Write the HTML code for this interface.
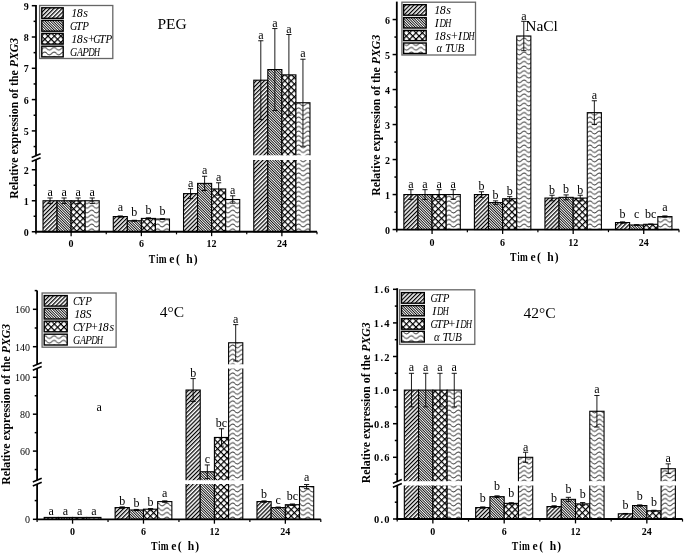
<!DOCTYPE html><html><head><meta charset="utf-8"><style>html,body{margin:0;padding:0;background:#fff;}svg{display:block;will-change:transform;}</style></head><body>
<svg width="685" height="554" viewBox="0 0 685 554">
<rect width="685" height="554" fill="#fff"/>
<defs>
<pattern id="p1" width="2.899" height="20" patternUnits="userSpaceOnUse" patternTransform="rotate(45)"><rect width="2.899" height="20" fill="#fff"/><rect x="0" y="0" width="1.25" height="20" fill="#000"/></pattern>
<pattern id="p2" width="1.838" height="20" patternUnits="userSpaceOnUse" patternTransform="rotate(-45)"><rect width="1.838" height="20" fill="#fff"/><rect x="0" y="0" width="0.85" height="20" fill="#000"/></pattern>
<pattern id="p3" width="4.525" height="4.525" patternUnits="userSpaceOnUse" patternTransform="rotate(45)"><rect width="4.525" height="4.525" fill="#fff"/><rect x="0" y="0" width="1.2" height="4.525" fill="#000"/><rect x="0" y="0" width="4.525" height="1.2" fill="#000"/></pattern>
<pattern id="p4" width="9.4" height="4.65" patternUnits="userSpaceOnUse"><rect width="9.4" height="4.65" fill="#fff"/><path d="M-0.1 2.3 C1.57 4.15 3.13 4.15 4.7 2.3 S7.83 0.45 9.5 2.3" fill="none" stroke="#222" stroke-width="0.95"/></pattern>
</defs>
<rect x="43.02" y="200.75" width="14.05" height="31.00" fill="url(#p1)" stroke="#000" stroke-width="1.1"/>
<rect x="57.08" y="200.75" width="14.05" height="31.00" fill="url(#p2)" stroke="#000" stroke-width="1.1"/>
<rect x="71.12" y="200.75" width="14.05" height="31.00" fill="url(#p3)" stroke="#000" stroke-width="1.1"/>
<rect x="85.18" y="200.75" width="14.05" height="31.00" fill="url(#p4)" stroke="#000" stroke-width="1.1"/>
<rect x="113.28" y="216.56" width="14.05" height="15.19" fill="url(#p1)" stroke="#000" stroke-width="1.1"/>
<rect x="127.33" y="220.75" width="14.05" height="11.00" fill="url(#p2)" stroke="#000" stroke-width="1.1"/>
<rect x="141.38" y="218.42" width="14.05" height="13.33" fill="url(#p3)" stroke="#000" stroke-width="1.1"/>
<rect x="155.43" y="219.04" width="14.05" height="12.71" fill="url(#p4)" stroke="#000" stroke-width="1.1"/>
<rect x="183.53" y="193.62" width="14.05" height="38.13" fill="url(#p1)" stroke="#000" stroke-width="1.1"/>
<rect x="197.58" y="183.39" width="14.05" height="48.36" fill="url(#p2)" stroke="#000" stroke-width="1.1"/>
<rect x="211.62" y="188.97" width="14.05" height="42.78" fill="url(#p3)" stroke="#000" stroke-width="1.1"/>
<rect x="225.68" y="199.51" width="14.05" height="32.24" fill="url(#p4)" stroke="#000" stroke-width="1.1"/>
<rect x="253.78" y="80.19" width="14.05" height="151.56" fill="url(#p1)" stroke="#000" stroke-width="1.1"/>
<rect x="267.82" y="69.55" width="14.05" height="162.20" fill="url(#p2)" stroke="#000" stroke-width="1.1"/>
<rect x="281.88" y="74.87" width="14.05" height="156.88" fill="url(#p3)" stroke="#000" stroke-width="1.1"/>
<rect x="295.93" y="102.73" width="14.05" height="129.02" fill="url(#p4)" stroke="#000" stroke-width="1.1"/>
<rect x="30.00" y="155.30" width="289.00" height="4.70" fill="#fff"/>
<path d="M50.05 197.96 V203.54 M47.45 197.96 H52.65 M47.45 203.54 H52.65" stroke="#000" stroke-width="0.9" fill="none"/>
<text x="50.05" y="195.96" font-family='"Liberation Serif", serif' font-size="12" font-weight="normal" font-style="normal" text-anchor="middle" >a</text>
<path d="M64.10 197.96 V203.54 M61.50 197.96 H66.70 M61.50 203.54 H66.70" stroke="#000" stroke-width="0.9" fill="none"/>
<text x="64.1" y="195.96" font-family='"Liberation Serif", serif' font-size="12" font-weight="normal" font-style="normal" text-anchor="middle" >a</text>
<path d="M78.15 197.96 V203.54 M75.55 197.96 H80.75 M75.55 203.54 H80.75" stroke="#000" stroke-width="0.9" fill="none"/>
<text x="78.15" y="195.96" font-family='"Liberation Serif", serif' font-size="12" font-weight="normal" font-style="normal" text-anchor="middle" >a</text>
<path d="M92.20 197.96 V203.54 M89.60 197.96 H94.80 M89.60 203.54 H94.80" stroke="#000" stroke-width="0.9" fill="none"/>
<text x="92.2" y="195.96" font-family='"Liberation Serif", serif' font-size="12" font-weight="normal" font-style="normal" text-anchor="middle" >a</text>
<path d="M120.30 215.94 V217.18 M117.70 215.94 H122.90 M117.70 217.18 H122.90" stroke="#000" stroke-width="0.9" fill="none"/>
<text x="120.3" y="211" font-family='"Liberation Serif", serif' font-size="12" font-weight="normal" font-style="normal" text-anchor="middle" >a</text>
<path d="M134.35 220.28 V221.21 M131.75 220.28 H136.95 M131.75 221.21 H136.95" stroke="#000" stroke-width="0.9" fill="none"/>
<text x="134.35" y="215.9" font-family='"Liberation Serif", serif' font-size="12" font-weight="normal" font-style="normal" text-anchor="middle" >b</text>
<path d="M148.40 217.80 V219.04 M145.80 217.80 H151.00 M145.80 219.04 H151.00" stroke="#000" stroke-width="0.9" fill="none"/>
<text x="148.4" y="214" font-family='"Liberation Serif", serif' font-size="12" font-weight="normal" font-style="normal" text-anchor="middle" >b</text>
<path d="M162.45 218.57 V219.50 M159.85 218.57 H165.05 M159.85 219.50 H165.05" stroke="#000" stroke-width="0.9" fill="none"/>
<text x="162.45" y="214.9" font-family='"Liberation Serif", serif' font-size="12" font-weight="normal" font-style="normal" text-anchor="middle" >b</text>
<path d="M190.55 188.66 V198.58 M187.95 188.66 H193.15 M187.95 198.58 H193.15" stroke="#000" stroke-width="0.9" fill="none"/>
<text x="190.55" y="186.66" font-family='"Liberation Serif", serif' font-size="12" font-weight="normal" font-style="normal" text-anchor="middle" >a</text>
<path d="M204.60 176.26 V190.52 M202.00 176.26 H207.20 M202.00 190.52 H207.20" stroke="#000" stroke-width="0.9" fill="none"/>
<text x="204.6" y="174.26" font-family='"Liberation Serif", serif' font-size="12" font-weight="normal" font-style="normal" text-anchor="middle" >a</text>
<path d="M218.65 182.77 V195.17 M216.05 182.77 H221.25 M216.05 195.17 H221.25" stroke="#000" stroke-width="0.9" fill="none"/>
<text x="218.65" y="180.77" font-family='"Liberation Serif", serif' font-size="12" font-weight="normal" font-style="normal" text-anchor="middle" >a</text>
<path d="M232.70 195.79 V203.23 M230.10 195.79 H235.30 M230.10 203.23 H235.30" stroke="#000" stroke-width="0.9" fill="none"/>
<text x="232.7" y="193.79" font-family='"Liberation Serif", serif' font-size="12" font-weight="normal" font-style="normal" text-anchor="middle" >a</text>
<path d="M260.80 40.76 V119.63 M258.20 40.76 H263.40 M258.20 119.63 H263.40" stroke="#000" stroke-width="0.9" fill="none"/>
<text x="260.8" y="38.76" font-family='"Liberation Serif", serif' font-size="12" font-weight="normal" font-style="normal" text-anchor="middle" >a</text>
<path d="M274.85 28.55 V110.55 M272.25 28.55 H277.45 M272.25 110.55 H277.45" stroke="#000" stroke-width="0.9" fill="none"/>
<text x="274.85" y="26.55" font-family='"Liberation Serif", serif' font-size="12" font-weight="normal" font-style="normal" text-anchor="middle" >a</text>
<path d="M288.90 34.50 V115.25 M286.30 34.50 H291.50 M286.30 115.25 H291.50" stroke="#000" stroke-width="0.9" fill="none"/>
<text x="288.9" y="32.5" font-family='"Liberation Serif", serif' font-size="12" font-weight="normal" font-style="normal" text-anchor="middle" >a</text>
<path d="M302.95 59.22 V146.24 M300.35 59.22 H305.55 M300.35 146.24 H305.55" stroke="#000" stroke-width="0.9" fill="none"/>
<text x="302.95" y="57.22" font-family='"Liberation Serif", serif' font-size="12" font-weight="normal" font-style="normal" text-anchor="middle" >a</text>
<line x1="36" y1="5.00" x2="36" y2="155.30" stroke="#000" stroke-width="1.8"/>
<line x1="36" y1="160.00" x2="36" y2="232.50" stroke="#000" stroke-width="1.8"/>
<line x1="31.70" y1="157.55" x2="40.60" y2="153.75" stroke="#000" stroke-width="1.5"/>
<line x1="31.70" y1="161.55" x2="40.60" y2="157.75" stroke="#000" stroke-width="1.5"/>
<line x1="35.1" y1="231.75" x2="317" y2="231.75" stroke="#000" stroke-width="1.8"/>
<line x1="31.80" y1="231.75" x2="36" y2="231.75" stroke="#000" stroke-width="1.5"/>
<text x="28.8" y="235.75" font-family='"Liberation Serif", serif' font-size="10" font-weight="bold" font-style="normal" text-anchor="end" >0</text>
<line x1="33.60" y1="216.25" x2="36" y2="216.25" stroke="#000" stroke-width="1.5"/>
<line x1="31.80" y1="200.75" x2="36" y2="200.75" stroke="#000" stroke-width="1.5"/>
<text x="28.8" y="204.75" font-family='"Liberation Serif", serif' font-size="10" font-weight="bold" font-style="normal" text-anchor="end" >1</text>
<line x1="33.60" y1="185.25" x2="36" y2="185.25" stroke="#000" stroke-width="1.5"/>
<line x1="31.80" y1="169.75" x2="36" y2="169.75" stroke="#000" stroke-width="1.5"/>
<text x="28.8" y="173.75" font-family='"Liberation Serif", serif' font-size="10" font-weight="bold" font-style="normal" text-anchor="end" >2</text>
<line x1="33.60" y1="146.55" x2="36" y2="146.55" stroke="#000" stroke-width="1.5"/>
<line x1="31.80" y1="130.90" x2="36" y2="130.90" stroke="#000" stroke-width="1.5"/>
<text x="28.8" y="134.9" font-family='"Liberation Serif", serif' font-size="10" font-weight="bold" font-style="normal" text-anchor="end" >5</text>
<line x1="33.60" y1="115.25" x2="36" y2="115.25" stroke="#000" stroke-width="1.5"/>
<line x1="31.80" y1="99.60" x2="36" y2="99.60" stroke="#000" stroke-width="1.5"/>
<text x="28.8" y="103.6" font-family='"Liberation Serif", serif' font-size="10" font-weight="bold" font-style="normal" text-anchor="end" >6</text>
<line x1="33.60" y1="83.95" x2="36" y2="83.95" stroke="#000" stroke-width="1.5"/>
<line x1="31.80" y1="68.30" x2="36" y2="68.30" stroke="#000" stroke-width="1.5"/>
<text x="28.8" y="72.3" font-family='"Liberation Serif", serif' font-size="10" font-weight="bold" font-style="normal" text-anchor="end" >7</text>
<line x1="33.60" y1="52.65" x2="36" y2="52.65" stroke="#000" stroke-width="1.5"/>
<line x1="31.80" y1="37.00" x2="36" y2="37.00" stroke="#000" stroke-width="1.5"/>
<text x="28.8" y="41" font-family='"Liberation Serif", serif' font-size="10" font-weight="bold" font-style="normal" text-anchor="end" >8</text>
<line x1="33.60" y1="21.35" x2="36" y2="21.35" stroke="#000" stroke-width="1.5"/>
<line x1="31.80" y1="5.70" x2="36" y2="5.70" stroke="#000" stroke-width="1.5"/>
<text x="28.8" y="9.7" font-family='"Liberation Serif", serif' font-size="10" font-weight="bold" font-style="normal" text-anchor="end" >9</text>
<line x1="36.00" y1="231.75" x2="36.00" y2="234.35" stroke="#000" stroke-width="1.2"/>
<line x1="106.25" y1="231.75" x2="106.25" y2="234.35" stroke="#000" stroke-width="1.2"/>
<line x1="176.50" y1="231.75" x2="176.50" y2="234.35" stroke="#000" stroke-width="1.2"/>
<line x1="246.75" y1="231.75" x2="246.75" y2="234.35" stroke="#000" stroke-width="1.2"/>
<line x1="317.00" y1="231.75" x2="317.00" y2="234.35" stroke="#000" stroke-width="1.2"/>
<line x1="71.12" y1="231.75" x2="71.12" y2="236.15" stroke="#000" stroke-width="1.3"/>
<text x="71.12" y="247.35" font-family='"Liberation Serif", serif' font-size="10" font-weight="bold" font-style="normal" text-anchor="middle" >0</text>
<line x1="141.38" y1="231.75" x2="141.38" y2="236.15" stroke="#000" stroke-width="1.3"/>
<text x="141.38" y="247.35" font-family='"Liberation Serif", serif' font-size="10" font-weight="bold" font-style="normal" text-anchor="middle" >6</text>
<line x1="211.62" y1="231.75" x2="211.62" y2="236.15" stroke="#000" stroke-width="1.3"/>
<text x="211.62" y="247.35" font-family='"Liberation Serif", serif' font-size="10" font-weight="bold" font-style="normal" text-anchor="middle" >12</text>
<line x1="281.88" y1="231.75" x2="281.88" y2="236.15" stroke="#000" stroke-width="1.3"/>
<text x="281.88" y="247.35" font-family='"Liberation Serif", serif' font-size="10" font-weight="bold" font-style="normal" text-anchor="middle" >24</text>
<text transform="translate(152.00,263.00) scale(0.840,1)" x="-3.87" y="0" font-family='"Liberation Serif", serif' font-size="11.6" font-weight="bold" font-style="normal" fill="#000">T</text>
<text transform="translate(157.30,263.00) scale(0.643,1)" x="-1.65" y="0" font-family='"Liberation Serif", serif' font-size="11.6" font-weight="bold" font-style="normal" fill="#000">i</text>
<text transform="translate(162.80,263.00) scale(0.808,1)" x="-4.89" y="0" font-family='"Liberation Serif", serif' font-size="11.6" font-weight="bold" font-style="normal" fill="#000">m</text>
<text transform="translate(171.90,263.00) scale(1.000,1)" x="-2.62" y="0" font-family='"Liberation Serif", serif' font-size="11.6" font-weight="bold" font-style="normal" fill="#000">e</text>
<text transform="translate(177.90,263.00) scale(1.000,1)" x="-2.00" y="0" font-family='"Liberation Serif", serif' font-size="11.6" font-weight="bold" font-style="normal" fill="#000">(</text>
<text transform="translate(189.50,263.00) scale(1.000,1)" x="-3.28" y="0" font-family='"Liberation Serif", serif' font-size="11.6" font-weight="bold" font-style="normal" fill="#000">h</text>
<text transform="translate(195.60,263.00) scale(1.000,1)" x="-1.86" y="0" font-family='"Liberation Serif", serif' font-size="11.6" font-weight="bold" font-style="normal" fill="#000">)</text>
<text transform="translate(17.5,118.3) rotate(-90)" font-family='"Liberation Serif", serif' font-size="11.8" font-weight="bold" text-anchor="middle">Relative expression of the <tspan font-style="italic">PXG3</tspan></text>
<text x="157.5" y="29.1" font-family='"Liberation Serif", serif' font-size="15.5" font-weight="normal" font-style="normal" text-anchor="start" >PEG</text>
<rect x="39.6" y="5.5" width="73.20" height="53.00" fill="#fff" stroke="#666" stroke-width="1.3"/>
<rect x="41.8" y="7.8" width="21.40" height="10.50" fill="url(#p1)" stroke="#000" stroke-width="1.4"/>
<g clip-path="url(#clipTL)">
<text transform="translate(73.90,17.05) scale(1.000,1)" x="-2.57" y="0" font-family='"Liberation Serif", serif' font-size="12" font-weight="normal" font-style="italic" fill="#000">1</text>
<text transform="translate(79.70,17.05) scale(1.000,1)" x="-3.06" y="0" font-family='"Liberation Serif", serif' font-size="12" font-weight="normal" font-style="italic" fill="#000">8</text>
<text transform="translate(85.50,17.05) scale(1.000,1)" x="-2.23" y="0" font-family='"Liberation Serif", serif' font-size="12" font-weight="normal" font-style="italic" fill="#000">s</text>
</g>
<rect x="41.8" y="20.4" width="21.40" height="10.80" fill="url(#p2)" stroke="#000" stroke-width="1.4"/>
<g clip-path="url(#clipTL)">
<text transform="translate(73.90,29.80) scale(0.839,1)" x="-4.54" y="0" font-family='"Liberation Serif", serif' font-size="12" font-weight="normal" font-style="italic" fill="#000">G</text>
<text transform="translate(79.70,29.80) scale(0.985,1)" x="-4.08" y="0" font-family='"Liberation Serif", serif' font-size="12" font-weight="normal" font-style="italic" fill="#000">T</text>
<text transform="translate(85.50,29.80) scale(0.916,1)" x="-3.48" y="0" font-family='"Liberation Serif", serif' font-size="12" font-weight="normal" font-style="italic" fill="#000">P</text>
</g>
<rect x="41.8" y="33.4" width="21.40" height="10.70" fill="url(#p3)" stroke="#000" stroke-width="1.4"/>
<g clip-path="url(#clipTL)">
<text transform="translate(73.90,42.75) scale(1.000,1)" x="-2.57" y="0" font-family='"Liberation Serif", serif' font-size="12" font-weight="normal" font-style="italic" fill="#000">1</text>
<text transform="translate(79.70,42.75) scale(1.000,1)" x="-3.06" y="0" font-family='"Liberation Serif", serif' font-size="12" font-weight="normal" font-style="italic" fill="#000">8</text>
<text transform="translate(85.50,42.75) scale(1.000,1)" x="-2.23" y="0" font-family='"Liberation Serif", serif' font-size="12" font-weight="normal" font-style="italic" fill="#000">s</text>
<text transform="translate(91.30,42.75) scale(1.000,1)" x="-4.16" y="0" font-family='"Liberation Serif", serif' font-size="12" font-weight="normal" font-style="italic" fill="#000">+</text>
<text transform="translate(97.10,42.75) scale(0.839,1)" x="-4.54" y="0" font-family='"Liberation Serif", serif' font-size="12" font-weight="normal" font-style="italic" fill="#000">G</text>
<text transform="translate(102.90,42.75) scale(0.985,1)" x="-4.08" y="0" font-family='"Liberation Serif", serif' font-size="12" font-weight="normal" font-style="italic" fill="#000">T</text>
<text transform="translate(108.70,42.75) scale(0.916,1)" x="-3.48" y="0" font-family='"Liberation Serif", serif' font-size="12" font-weight="normal" font-style="italic" fill="#000">P</text>
</g>
<rect x="41.8" y="46.2" width="21.40" height="10.70" fill="url(#p4)" stroke="#000" stroke-width="1.4"/>
<g clip-path="url(#clipTL)">
<text transform="translate(73.90,55.55) scale(0.839,1)" x="-4.54" y="0" font-family='"Liberation Serif", serif' font-size="12" font-weight="normal" font-style="italic" fill="#000">G</text>
<text transform="translate(79.70,55.55) scale(0.809,1)" x="-3.36" y="0" font-family='"Liberation Serif", serif' font-size="12" font-weight="normal" font-style="italic" fill="#000">A</text>
<text transform="translate(85.50,55.55) scale(0.916,1)" x="-3.48" y="0" font-family='"Liberation Serif", serif' font-size="12" font-weight="normal" font-style="italic" fill="#000">P</text>
<text transform="translate(91.30,55.55) scale(0.754,1)" x="-4.17" y="0" font-family='"Liberation Serif", serif' font-size="12" font-weight="normal" font-style="italic" fill="#000">D</text>
<text transform="translate(97.10,55.55) scale(0.696,1)" x="-4.54" y="0" font-family='"Liberation Serif", serif' font-size="12" font-weight="normal" font-style="italic" fill="#000">H</text>
</g>
<clipPath id="clipTL"><rect x="39.6" y="5.5" width="72.70" height="53.00"/></clipPath>
<rect x="403.86" y="194.55" width="14.11" height="35.00" fill="url(#p1)" stroke="#000" stroke-width="1.1"/>
<rect x="417.97" y="194.55" width="14.11" height="35.00" fill="url(#p2)" stroke="#000" stroke-width="1.1"/>
<rect x="432.08" y="194.55" width="14.11" height="35.00" fill="url(#p3)" stroke="#000" stroke-width="1.1"/>
<rect x="446.19" y="194.55" width="14.11" height="35.00" fill="url(#p4)" stroke="#000" stroke-width="1.1"/>
<rect x="474.40" y="194.55" width="14.11" height="35.00" fill="url(#p1)" stroke="#000" stroke-width="1.1"/>
<rect x="488.51" y="202.60" width="14.11" height="26.95" fill="url(#p2)" stroke="#000" stroke-width="1.1"/>
<rect x="502.62" y="198.75" width="14.11" height="30.80" fill="url(#p3)" stroke="#000" stroke-width="1.1"/>
<rect x="516.74" y="36.00" width="14.11" height="193.55" fill="url(#p4)" stroke="#000" stroke-width="1.1"/>
<rect x="544.95" y="198.05" width="14.11" height="31.50" fill="url(#p1)" stroke="#000" stroke-width="1.1"/>
<rect x="559.06" y="197.35" width="14.11" height="32.20" fill="url(#p2)" stroke="#000" stroke-width="1.1"/>
<rect x="573.17" y="198.05" width="14.11" height="31.50" fill="url(#p3)" stroke="#000" stroke-width="1.1"/>
<rect x="587.28" y="112.65" width="14.11" height="116.90" fill="url(#p4)" stroke="#000" stroke-width="1.1"/>
<rect x="615.50" y="222.55" width="14.11" height="7.00" fill="url(#p1)" stroke="#000" stroke-width="1.1"/>
<rect x="629.62" y="225.00" width="14.11" height="4.55" fill="url(#p2)" stroke="#000" stroke-width="1.1"/>
<rect x="643.73" y="224.30" width="14.11" height="5.25" fill="url(#p3)" stroke="#000" stroke-width="1.1"/>
<rect x="657.84" y="216.60" width="14.11" height="12.95" fill="url(#p4)" stroke="#000" stroke-width="1.1"/>
<path d="M410.91 189.65 V199.45 M408.31 189.65 H413.51 M408.31 199.45 H413.51" stroke="#000" stroke-width="0.9" fill="none"/>
<text x="410.91" y="188.05" font-family='"Liberation Serif", serif' font-size="12" font-weight="normal" font-style="normal" text-anchor="middle" >a</text>
<path d="M425.02 189.65 V199.45 M422.42 189.65 H427.62 M422.42 199.45 H427.62" stroke="#000" stroke-width="0.9" fill="none"/>
<text x="425.02" y="188.05" font-family='"Liberation Serif", serif' font-size="12" font-weight="normal" font-style="normal" text-anchor="middle" >a</text>
<path d="M439.13 189.65 V199.45 M436.53 189.65 H441.73 M436.53 199.45 H441.73" stroke="#000" stroke-width="0.9" fill="none"/>
<text x="439.13" y="188.05" font-family='"Liberation Serif", serif' font-size="12" font-weight="normal" font-style="normal" text-anchor="middle" >a</text>
<path d="M453.24 189.65 V199.45 M450.64 189.65 H455.84 M450.64 199.45 H455.84" stroke="#000" stroke-width="0.9" fill="none"/>
<text x="453.24" y="188.05" font-family='"Liberation Serif", serif' font-size="12" font-weight="normal" font-style="normal" text-anchor="middle" >a</text>
<path d="M481.46 191.75 V197.35 M478.86 191.75 H484.06 M478.86 197.35 H484.06" stroke="#000" stroke-width="0.9" fill="none"/>
<text x="481.46" y="190.15" font-family='"Liberation Serif", serif' font-size="12" font-weight="normal" font-style="normal" text-anchor="middle" >b</text>
<path d="M495.57 200.85 V204.35 M492.97 200.85 H498.17 M492.97 204.35 H498.17" stroke="#000" stroke-width="0.9" fill="none"/>
<text x="495.57" y="199.25" font-family='"Liberation Serif", serif' font-size="12" font-weight="normal" font-style="normal" text-anchor="middle" >b</text>
<path d="M509.68 196.65 V200.85 M507.08 196.65 H512.28 M507.08 200.85 H512.28" stroke="#000" stroke-width="0.9" fill="none"/>
<text x="509.68" y="195.05" font-family='"Liberation Serif", serif' font-size="12" font-weight="normal" font-style="normal" text-anchor="middle" >b</text>
<path d="M523.79 21.30 V50.70 M521.19 21.30 H526.39 M521.19 50.70 H526.39" stroke="#000" stroke-width="0.9" fill="none"/>
<text x="523.79" y="20" font-family='"Liberation Serif", serif' font-size="12" font-weight="normal" font-style="normal" text-anchor="middle" >a</text>
<path d="M552.01 195.25 V200.85 M549.41 195.25 H554.61 M549.41 200.85 H554.61" stroke="#000" stroke-width="0.9" fill="none"/>
<text x="552.01" y="193.65" font-family='"Liberation Serif", serif' font-size="12" font-weight="normal" font-style="normal" text-anchor="middle" >b</text>
<path d="M566.12 194.90 V199.80 M563.52 194.90 H568.72 M563.52 199.80 H568.72" stroke="#000" stroke-width="0.9" fill="none"/>
<text x="566.12" y="193.3" font-family='"Liberation Serif", serif' font-size="12" font-weight="normal" font-style="normal" text-anchor="middle" >b</text>
<path d="M580.23 195.25 V200.85 M577.63 195.25 H582.83 M577.63 200.85 H582.83" stroke="#000" stroke-width="0.9" fill="none"/>
<text x="580.23" y="193.65" font-family='"Liberation Serif", serif' font-size="12" font-weight="normal" font-style="normal" text-anchor="middle" >b</text>
<path d="M594.34 100.75 V124.55 M591.74 100.75 H596.94 M591.74 124.55 H596.94" stroke="#000" stroke-width="0.9" fill="none"/>
<text x="594.34" y="99.15" font-family='"Liberation Serif", serif' font-size="12" font-weight="normal" font-style="normal" text-anchor="middle" >a</text>
<path d="M622.56 221.85 V223.25 M619.96 221.85 H625.16 M619.96 223.25 H625.16" stroke="#000" stroke-width="0.9" fill="none"/>
<text x="622.56" y="217.8" font-family='"Liberation Serif", serif' font-size="12" font-weight="normal" font-style="normal" text-anchor="middle" >b</text>
<path d="M636.67 224.65 V225.35 M634.07 224.65 H639.27 M634.07 225.35 H639.27" stroke="#000" stroke-width="0.9" fill="none"/>
<text x="636.67" y="218.4" font-family='"Liberation Serif", serif' font-size="12" font-weight="normal" font-style="normal" text-anchor="middle" >c</text>
<path d="M650.78 223.95 V224.65 M648.18 223.95 H653.38 M648.18 224.65 H653.38" stroke="#000" stroke-width="0.9" fill="none"/>
<text x="650.78" y="218.4" font-family='"Liberation Serif", serif' font-size="12" font-weight="normal" font-style="normal" text-anchor="middle" >bc</text>
<path d="M664.89 215.90 V217.30 M662.29 215.90 H667.49 M662.29 217.30 H667.49" stroke="#000" stroke-width="0.9" fill="none"/>
<text x="664.89" y="210.5" font-family='"Liberation Serif", serif' font-size="12" font-weight="normal" font-style="normal" text-anchor="middle" >a</text>
<line x1="396.8" y1="1.60" x2="396.8" y2="230.30" stroke="#000" stroke-width="1.8"/>
<line x1="395.90000000000003" y1="229.55" x2="679.0" y2="229.55" stroke="#000" stroke-width="1.8"/>
<line x1="392.60" y1="229.55" x2="396.8" y2="229.55" stroke="#000" stroke-width="1.5"/>
<text x="390" y="233.55" font-family='"Liberation Serif", serif' font-size="10" font-weight="bold" font-style="normal" text-anchor="end" >0</text>
<line x1="394.40" y1="212.05" x2="396.8" y2="212.05" stroke="#000" stroke-width="1.5"/>
<line x1="392.60" y1="194.55" x2="396.8" y2="194.55" stroke="#000" stroke-width="1.5"/>
<text x="390" y="198.55" font-family='"Liberation Serif", serif' font-size="10" font-weight="bold" font-style="normal" text-anchor="end" >1</text>
<line x1="394.40" y1="177.05" x2="396.8" y2="177.05" stroke="#000" stroke-width="1.5"/>
<line x1="392.60" y1="159.55" x2="396.8" y2="159.55" stroke="#000" stroke-width="1.5"/>
<text x="390" y="163.55" font-family='"Liberation Serif", serif' font-size="10" font-weight="bold" font-style="normal" text-anchor="end" >2</text>
<line x1="394.40" y1="142.05" x2="396.8" y2="142.05" stroke="#000" stroke-width="1.5"/>
<line x1="392.60" y1="124.55" x2="396.8" y2="124.55" stroke="#000" stroke-width="1.5"/>
<text x="390" y="128.55" font-family='"Liberation Serif", serif' font-size="10" font-weight="bold" font-style="normal" text-anchor="end" >3</text>
<line x1="394.40" y1="107.05" x2="396.8" y2="107.05" stroke="#000" stroke-width="1.5"/>
<line x1="392.60" y1="89.55" x2="396.8" y2="89.55" stroke="#000" stroke-width="1.5"/>
<text x="390" y="93.55" font-family='"Liberation Serif", serif' font-size="10" font-weight="bold" font-style="normal" text-anchor="end" >4</text>
<line x1="394.40" y1="72.05" x2="396.8" y2="72.05" stroke="#000" stroke-width="1.5"/>
<line x1="392.60" y1="54.55" x2="396.8" y2="54.55" stroke="#000" stroke-width="1.5"/>
<text x="390" y="58.55" font-family='"Liberation Serif", serif' font-size="10" font-weight="bold" font-style="normal" text-anchor="end" >5</text>
<line x1="394.40" y1="37.05" x2="396.8" y2="37.05" stroke="#000" stroke-width="1.5"/>
<line x1="392.60" y1="19.55" x2="396.8" y2="19.55" stroke="#000" stroke-width="1.5"/>
<text x="390" y="23.55" font-family='"Liberation Serif", serif' font-size="10" font-weight="bold" font-style="normal" text-anchor="end" >6</text>
<line x1="396.80" y1="229.55" x2="396.80" y2="232.15" stroke="#000" stroke-width="1.2"/>
<line x1="467.35" y1="229.55" x2="467.35" y2="232.15" stroke="#000" stroke-width="1.2"/>
<line x1="537.90" y1="229.55" x2="537.90" y2="232.15" stroke="#000" stroke-width="1.2"/>
<line x1="608.45" y1="229.55" x2="608.45" y2="232.15" stroke="#000" stroke-width="1.2"/>
<line x1="679.00" y1="229.55" x2="679.00" y2="232.15" stroke="#000" stroke-width="1.2"/>
<line x1="432.07" y1="229.55" x2="432.07" y2="233.95" stroke="#000" stroke-width="1.3"/>
<text x="432.07" y="245.75" font-family='"Liberation Serif", serif' font-size="10" font-weight="bold" font-style="normal" text-anchor="middle" >0</text>
<line x1="502.62" y1="229.55" x2="502.62" y2="233.95" stroke="#000" stroke-width="1.3"/>
<text x="502.62" y="245.75" font-family='"Liberation Serif", serif' font-size="10" font-weight="bold" font-style="normal" text-anchor="middle" >6</text>
<line x1="573.17" y1="229.55" x2="573.17" y2="233.95" stroke="#000" stroke-width="1.3"/>
<text x="573.17" y="245.75" font-family='"Liberation Serif", serif' font-size="10" font-weight="bold" font-style="normal" text-anchor="middle" >12</text>
<line x1="643.73" y1="229.55" x2="643.73" y2="233.95" stroke="#000" stroke-width="1.3"/>
<text x="643.73" y="245.75" font-family='"Liberation Serif", serif' font-size="10" font-weight="bold" font-style="normal" text-anchor="middle" >24</text>
<text transform="translate(513.29,261.10) scale(0.840,1)" x="-3.87" y="0" font-family='"Liberation Serif", serif' font-size="11.6" font-weight="bold" font-style="normal" fill="#000">T</text>
<text transform="translate(518.57,261.10) scale(0.643,1)" x="-1.65" y="0" font-family='"Liberation Serif", serif' font-size="11.6" font-weight="bold" font-style="normal" fill="#000">i</text>
<text transform="translate(524.04,261.10) scale(0.808,1)" x="-4.89" y="0" font-family='"Liberation Serif", serif' font-size="11.6" font-weight="bold" font-style="normal" fill="#000">m</text>
<text transform="translate(533.10,261.10) scale(1.000,1)" x="-2.62" y="0" font-family='"Liberation Serif", serif' font-size="11.6" font-weight="bold" font-style="normal" fill="#000">e</text>
<text transform="translate(539.08,261.10) scale(1.000,1)" x="-2.00" y="0" font-family='"Liberation Serif", serif' font-size="11.6" font-weight="bold" font-style="normal" fill="#000">(</text>
<text transform="translate(550.63,261.10) scale(1.000,1)" x="-3.28" y="0" font-family='"Liberation Serif", serif' font-size="11.6" font-weight="bold" font-style="normal" fill="#000">h</text>
<text transform="translate(556.71,261.10) scale(1.000,1)" x="-1.86" y="0" font-family='"Liberation Serif", serif' font-size="11.6" font-weight="bold" font-style="normal" fill="#000">)</text>
<text transform="translate(379.8,115.2) rotate(-90)" font-family='"Liberation Serif", serif' font-size="11.8" font-weight="bold" text-anchor="middle">Relative expression of the <tspan font-style="italic">PXG3</tspan></text>
<text x="525.2" y="30.8" font-family='"Liberation Serif", serif' font-size="15.5" font-weight="normal" font-style="normal" text-anchor="start" >NaCl</text>
<rect x="401.9" y="2.2" width="73.60" height="52.80" fill="#fff" stroke="#666" stroke-width="1.3"/>
<rect x="403.6" y="4.7" width="22.60" height="10.50" fill="url(#p1)" stroke="#000" stroke-width="1.4"/>
<g clip-path="url(#clipTR)">
<text transform="translate(436.90,13.95) scale(1.000,1)" x="-2.57" y="0" font-family='"Liberation Serif", serif' font-size="12" font-weight="normal" font-style="italic" fill="#000">1</text>
<text transform="translate(442.70,13.95) scale(1.000,1)" x="-3.06" y="0" font-family='"Liberation Serif", serif' font-size="12" font-weight="normal" font-style="italic" fill="#000">8</text>
<text transform="translate(448.50,13.95) scale(1.000,1)" x="-2.23" y="0" font-family='"Liberation Serif", serif' font-size="12" font-weight="normal" font-style="italic" fill="#000">s</text>
</g>
<rect x="403.6" y="17.6" width="22.60" height="10.40" fill="url(#p2)" stroke="#000" stroke-width="1.4"/>
<g clip-path="url(#clipTR)">
<text transform="translate(436.90,26.80) scale(1.000,1)" x="-2.21" y="0" font-family='"Liberation Serif", serif' font-size="12" font-weight="normal" font-style="italic" fill="#000">I</text>
<text transform="translate(442.70,26.80) scale(0.754,1)" x="-4.17" y="0" font-family='"Liberation Serif", serif' font-size="12" font-weight="normal" font-style="italic" fill="#000">D</text>
<text transform="translate(448.50,26.80) scale(0.696,1)" x="-4.54" y="0" font-family='"Liberation Serif", serif' font-size="12" font-weight="normal" font-style="italic" fill="#000">H</text>
</g>
<rect x="403.6" y="30.4" width="22.60" height="10.20" fill="url(#p3)" stroke="#000" stroke-width="1.4"/>
<g clip-path="url(#clipTR)">
<text transform="translate(436.90,39.50) scale(1.000,1)" x="-2.57" y="0" font-family='"Liberation Serif", serif' font-size="12" font-weight="normal" font-style="italic" fill="#000">1</text>
<text transform="translate(442.70,39.50) scale(1.000,1)" x="-3.06" y="0" font-family='"Liberation Serif", serif' font-size="12" font-weight="normal" font-style="italic" fill="#000">8</text>
<text transform="translate(448.50,39.50) scale(1.000,1)" x="-2.23" y="0" font-family='"Liberation Serif", serif' font-size="12" font-weight="normal" font-style="italic" fill="#000">s</text>
<text transform="translate(454.30,39.50) scale(1.000,1)" x="-4.16" y="0" font-family='"Liberation Serif", serif' font-size="12" font-weight="normal" font-style="italic" fill="#000">+</text>
<text transform="translate(460.10,39.50) scale(1.000,1)" x="-2.21" y="0" font-family='"Liberation Serif", serif' font-size="12" font-weight="normal" font-style="italic" fill="#000">I</text>
<text transform="translate(465.90,39.50) scale(0.754,1)" x="-4.17" y="0" font-family='"Liberation Serif", serif' font-size="12" font-weight="normal" font-style="italic" fill="#000">D</text>
<text transform="translate(471.70,39.50) scale(0.696,1)" x="-4.54" y="0" font-family='"Liberation Serif", serif' font-size="12" font-weight="normal" font-style="italic" fill="#000">H</text>
</g>
<rect x="403.6" y="43.0" width="22.60" height="10.50" fill="url(#p4)" stroke="#000" stroke-width="1.4"/>
<g clip-path="url(#clipTR)">
<text transform="translate(439.60,52.25) scale(0.896,1)" x="-3.43" y="0" font-family='"Liberation Serif", serif' font-size="12" font-weight="normal" font-style="italic" fill="#000">α</text>
<text transform="translate(449.00,52.25) scale(0.985,1)" x="-4.08" y="0" font-family='"Liberation Serif", serif' font-size="12" font-weight="normal" font-style="italic" fill="#000">T</text>
<text transform="translate(454.90,52.25) scale(0.791,1)" x="-5.21" y="0" font-family='"Liberation Serif", serif' font-size="12" font-weight="normal" font-style="italic" fill="#000">U</text>
<text transform="translate(460.80,52.25) scale(0.935,1)" x="-3.59" y="0" font-family='"Liberation Serif", serif' font-size="12" font-weight="normal" font-style="italic" fill="#000">B</text>
</g>
<clipPath id="clipTR"><rect x="401.9" y="2.2" width="73.10" height="52.80"/></clipPath>
<rect x="44.19" y="517.43" width="14.19" height="1.87" fill="url(#p1)" stroke="#000" stroke-width="1.1"/>
<rect x="58.38" y="517.43" width="14.19" height="1.87" fill="url(#p2)" stroke="#000" stroke-width="1.1"/>
<rect x="72.56" y="517.43" width="14.19" height="1.87" fill="url(#p3)" stroke="#000" stroke-width="1.1"/>
<rect x="86.75" y="517.43" width="14.19" height="1.87" fill="url(#p4)" stroke="#000" stroke-width="1.1"/>
<rect x="115.12" y="507.59" width="14.19" height="11.71" fill="url(#p1)" stroke="#000" stroke-width="1.1"/>
<rect x="129.30" y="510.01" width="14.19" height="9.29" fill="url(#p2)" stroke="#000" stroke-width="1.1"/>
<rect x="143.49" y="509.20" width="14.19" height="10.10" fill="url(#p3)" stroke="#000" stroke-width="1.1"/>
<rect x="157.67" y="501.59" width="14.19" height="17.71" fill="url(#p4)" stroke="#000" stroke-width="1.1"/>
<rect x="186.04" y="390.03" width="14.19" height="129.27" fill="url(#p1)" stroke="#000" stroke-width="1.1"/>
<rect x="200.23" y="471.76" width="14.19" height="47.54" fill="url(#p2)" stroke="#000" stroke-width="1.1"/>
<rect x="214.41" y="437.45" width="14.19" height="81.85" fill="url(#p3)" stroke="#000" stroke-width="1.1"/>
<rect x="228.60" y="342.77" width="14.19" height="176.53" fill="url(#p4)" stroke="#000" stroke-width="1.1"/>
<rect x="256.97" y="501.59" width="14.19" height="17.71" fill="url(#p1)" stroke="#000" stroke-width="1.1"/>
<rect x="271.15" y="507.59" width="14.19" height="11.71" fill="url(#p2)" stroke="#000" stroke-width="1.1"/>
<rect x="285.34" y="504.71" width="14.19" height="14.59" fill="url(#p3)" stroke="#000" stroke-width="1.1"/>
<rect x="299.52" y="486.57" width="14.19" height="32.72" fill="url(#p4)" stroke="#000" stroke-width="1.1"/>
<rect x="31.10" y="480.20" width="291.70" height="3.80" fill="#fff"/>
<rect x="31.10" y="364.30" width="291.70" height="4.20" fill="#fff"/>
<text x="51.28" y="515" font-family='"Liberation Serif", serif' font-size="12" font-weight="normal" font-style="normal" text-anchor="middle" >a</text>
<text x="65.47" y="515" font-family='"Liberation Serif", serif' font-size="12" font-weight="normal" font-style="normal" text-anchor="middle" >a</text>
<text x="79.66" y="515" font-family='"Liberation Serif", serif' font-size="12" font-weight="normal" font-style="normal" text-anchor="middle" >a</text>
<text x="93.84" y="515" font-family='"Liberation Serif", serif' font-size="12" font-weight="normal" font-style="normal" text-anchor="middle" >a</text>
<path d="M122.21 506.85 V508.34 M119.61 506.85 H124.81 M119.61 508.34 H124.81" stroke="#000" stroke-width="0.9" fill="none"/>
<text x="122.21" y="504.7" font-family='"Liberation Serif", serif' font-size="12" font-weight="normal" font-style="normal" text-anchor="middle" >b</text>
<path d="M136.39 509.45 V510.57 M133.79 509.45 H138.99 M133.79 510.57 H138.99" stroke="#000" stroke-width="0.9" fill="none"/>
<text x="136.39" y="506.7" font-family='"Liberation Serif", serif' font-size="12" font-weight="normal" font-style="normal" text-anchor="middle" >b</text>
<path d="M150.58 508.55 V509.86 M147.98 508.55 H153.18 M147.98 509.86 H153.18" stroke="#000" stroke-width="0.9" fill="none"/>
<text x="150.58" y="505.7" font-family='"Liberation Serif", serif' font-size="12" font-weight="normal" font-style="normal" text-anchor="middle" >b</text>
<path d="M164.76 500.84 V502.34 M162.16 500.84 H167.36 M162.16 502.34 H167.36" stroke="#000" stroke-width="0.9" fill="none"/>
<text x="164.76" y="497.2" font-family='"Liberation Serif", serif' font-size="12" font-weight="normal" font-style="normal" text-anchor="middle" >a</text>
<path d="M193.13 378.59 V401.47 M190.53 378.59 H195.73 M190.53 401.47 H195.73" stroke="#000" stroke-width="0.9" fill="none"/>
<text x="193.13" y="376.59" font-family='"Liberation Serif", serif' font-size="12" font-weight="normal" font-style="normal" text-anchor="middle" >b</text>
<path d="M207.32 464.94 V478.59 M204.72 464.94 H209.92 M204.72 478.59 H209.92" stroke="#000" stroke-width="0.9" fill="none"/>
<text x="207.32" y="462.94" font-family='"Liberation Serif", serif' font-size="12" font-weight="normal" font-style="normal" text-anchor="middle" >c</text>
<path d="M221.50 428.78 V446.12 M218.91 428.78 H224.10 M218.91 446.12 H224.10" stroke="#000" stroke-width="0.9" fill="none"/>
<text x="221.5" y="426.78" font-family='"Liberation Serif", serif' font-size="12" font-weight="normal" font-style="normal" text-anchor="middle" >bc</text>
<path d="M235.69 324.63 V360.91 M233.09 324.63 H238.29 M233.09 360.91 H238.29" stroke="#000" stroke-width="0.9" fill="none"/>
<text x="235.69" y="322.63" font-family='"Liberation Serif", serif' font-size="12" font-weight="normal" font-style="normal" text-anchor="middle" >a</text>
<path d="M264.06 500.84 V502.34 M261.46 500.84 H266.66 M261.46 502.34 H266.66" stroke="#000" stroke-width="0.9" fill="none"/>
<text x="264.06" y="497.6" font-family='"Liberation Serif", serif' font-size="12" font-weight="normal" font-style="normal" text-anchor="middle" >b</text>
<path d="M278.24 507.03 V508.15 M275.64 507.03 H280.84 M275.64 508.15 H280.84" stroke="#000" stroke-width="0.9" fill="none"/>
<text x="278.24" y="503.7" font-family='"Liberation Serif", serif' font-size="12" font-weight="normal" font-style="normal" text-anchor="middle" >c</text>
<path d="M292.43 503.97 V505.46 M289.83 503.97 H295.03 M289.83 505.46 H295.03" stroke="#000" stroke-width="0.9" fill="none"/>
<text x="292.43" y="500.1" font-family='"Liberation Serif", serif' font-size="12" font-weight="normal" font-style="normal" text-anchor="middle" >bc</text>
<path d="M306.61 484.52 V488.63 M304.01 484.52 H309.21 M304.01 488.63 H309.21" stroke="#000" stroke-width="0.9" fill="none"/>
<text x="306.61" y="480.7" font-family='"Liberation Serif", serif' font-size="12" font-weight="normal" font-style="normal" text-anchor="middle" >a</text>
<line x1="37.1" y1="290.50" x2="37.1" y2="364.30" stroke="#000" stroke-width="1.8"/>
<line x1="37.1" y1="368.50" x2="37.1" y2="480.20" stroke="#000" stroke-width="1.8"/>
<line x1="37.1" y1="484.00" x2="37.1" y2="520.05" stroke="#000" stroke-width="1.8"/>
<line x1="32.80" y1="482.00" x2="41.70" y2="478.20" stroke="#000" stroke-width="1.5"/>
<line x1="32.80" y1="486.00" x2="41.70" y2="482.20" stroke="#000" stroke-width="1.5"/>
<line x1="32.80" y1="366.30" x2="41.70" y2="362.50" stroke="#000" stroke-width="1.5"/>
<line x1="32.80" y1="370.30" x2="41.70" y2="366.50" stroke="#000" stroke-width="1.5"/>
<line x1="36.2" y1="519.30" x2="320.8" y2="519.30" stroke="#000" stroke-width="1.8"/>
<line x1="32.90" y1="519.30" x2="37.1" y2="519.30" stroke="#000" stroke-width="1.5"/>
<text x="30" y="523.3" font-family='"Liberation Serif", serif' font-size="10" font-weight="normal" font-style="normal" text-anchor="end" >0</text>
<line x1="34.70" y1="500.60" x2="37.1" y2="500.60" stroke="#000" stroke-width="1.5"/>
<line x1="34.70" y1="469.55" x2="37.1" y2="469.55" stroke="#000" stroke-width="1.5"/>
<line x1="32.90" y1="451.10" x2="37.1" y2="451.10" stroke="#000" stroke-width="1.5"/>
<text x="30" y="455.1" font-family='"Liberation Serif", serif' font-size="10" font-weight="normal" font-style="normal" text-anchor="end" >60</text>
<line x1="34.70" y1="432.65" x2="37.1" y2="432.65" stroke="#000" stroke-width="1.5"/>
<line x1="32.90" y1="414.20" x2="37.1" y2="414.20" stroke="#000" stroke-width="1.5"/>
<text x="30" y="418.2" font-family='"Liberation Serif", serif' font-size="10" font-weight="normal" font-style="normal" text-anchor="end" >80</text>
<line x1="34.70" y1="395.75" x2="37.1" y2="395.75" stroke="#000" stroke-width="1.5"/>
<line x1="32.90" y1="377.30" x2="37.1" y2="377.30" stroke="#000" stroke-width="1.5"/>
<text x="30" y="381.3" font-family='"Liberation Serif", serif' font-size="10" font-weight="normal" font-style="normal" text-anchor="end" >100</text>
<line x1="32.90" y1="346.70" x2="37.1" y2="346.70" stroke="#000" stroke-width="1.5"/>
<text x="30" y="350.7" font-family='"Liberation Serif", serif' font-size="10" font-weight="normal" font-style="normal" text-anchor="end" >140</text>
<line x1="34.70" y1="328.00" x2="37.1" y2="328.00" stroke="#000" stroke-width="1.5"/>
<line x1="32.90" y1="309.30" x2="37.1" y2="309.30" stroke="#000" stroke-width="1.5"/>
<text x="30" y="313.3" font-family='"Liberation Serif", serif' font-size="10" font-weight="normal" font-style="normal" text-anchor="end" >160</text>
<line x1="34.70" y1="290.60" x2="37.1" y2="290.60" stroke="#000" stroke-width="1.5"/>
<line x1="37.10" y1="519.30" x2="37.10" y2="521.90" stroke="#000" stroke-width="1.2"/>
<line x1="108.03" y1="519.30" x2="108.03" y2="521.90" stroke="#000" stroke-width="1.2"/>
<line x1="178.95" y1="519.30" x2="178.95" y2="521.90" stroke="#000" stroke-width="1.2"/>
<line x1="249.87" y1="519.30" x2="249.87" y2="521.90" stroke="#000" stroke-width="1.2"/>
<line x1="320.80" y1="519.30" x2="320.80" y2="521.90" stroke="#000" stroke-width="1.2"/>
<line x1="72.56" y1="519.30" x2="72.56" y2="523.70" stroke="#000" stroke-width="1.3"/>
<text x="72.56" y="535.1" font-family='"Liberation Serif", serif' font-size="10" font-weight="bold" font-style="normal" text-anchor="middle" >0</text>
<line x1="143.49" y1="519.30" x2="143.49" y2="523.70" stroke="#000" stroke-width="1.3"/>
<text x="143.49" y="535.1" font-family='"Liberation Serif", serif' font-size="10" font-weight="bold" font-style="normal" text-anchor="middle" >6</text>
<line x1="214.41" y1="519.30" x2="214.41" y2="523.70" stroke="#000" stroke-width="1.3"/>
<text x="214.41" y="535.1" font-family='"Liberation Serif", serif' font-size="10" font-weight="bold" font-style="normal" text-anchor="middle" >12</text>
<line x1="285.34" y1="519.30" x2="285.34" y2="523.70" stroke="#000" stroke-width="1.3"/>
<text x="285.34" y="535.1" font-family='"Liberation Serif", serif' font-size="10" font-weight="bold" font-style="normal" text-anchor="middle" >24</text>
<text transform="translate(154.15,550.30) scale(0.840,1)" x="-3.87" y="0" font-family='"Liberation Serif", serif' font-size="11.6" font-weight="bold" font-style="normal" fill="#000">T</text>
<text transform="translate(159.38,550.30) scale(0.643,1)" x="-1.65" y="0" font-family='"Liberation Serif", serif' font-size="11.6" font-weight="bold" font-style="normal" fill="#000">i</text>
<text transform="translate(164.80,550.30) scale(0.808,1)" x="-4.89" y="0" font-family='"Liberation Serif", serif' font-size="11.6" font-weight="bold" font-style="normal" fill="#000">m</text>
<text transform="translate(173.77,550.30) scale(1.000,1)" x="-2.62" y="0" font-family='"Liberation Serif", serif' font-size="11.6" font-weight="bold" font-style="normal" fill="#000">e</text>
<text transform="translate(179.68,550.30) scale(1.000,1)" x="-2.00" y="0" font-family='"Liberation Serif", serif' font-size="11.6" font-weight="bold" font-style="normal" fill="#000">(</text>
<text transform="translate(191.11,550.30) scale(1.000,1)" x="-3.28" y="0" font-family='"Liberation Serif", serif' font-size="11.6" font-weight="bold" font-style="normal" fill="#000">h</text>
<text transform="translate(197.12,550.30) scale(1.000,1)" x="-1.86" y="0" font-family='"Liberation Serif", serif' font-size="11.6" font-weight="bold" font-style="normal" fill="#000">)</text>
<text transform="translate(10.2,404.3) rotate(-90)" font-family='"Liberation Serif", serif' font-size="11.8" font-weight="bold" text-anchor="middle">Relative expression of the <tspan font-style="italic">PXG3</tspan></text>
<text x="159.8" y="317.3" font-family='"Liberation Serif", serif' font-size="15.5" font-weight="normal" font-style="normal" text-anchor="start" >4°C</text>
<rect x="42.1" y="293.0" width="74.00" height="54.20" fill="#fff" stroke="#666" stroke-width="1.3"/>
<rect x="44.2" y="295.6" width="23.00" height="10.50" fill="url(#p1)" stroke="#000" stroke-width="1.4"/>
<g clip-path="url(#clipBL)">
<text transform="translate(76.90,304.85) scale(0.872,1)" x="-4.39" y="0" font-family='"Liberation Serif", serif' font-size="12" font-weight="normal" font-style="italic" fill="#000">C</text>
<text transform="translate(82.70,304.85) scale(0.921,1)" x="-4.21" y="0" font-family='"Liberation Serif", serif' font-size="12" font-weight="normal" font-style="italic" fill="#000">Y</text>
<text transform="translate(88.50,304.85) scale(0.916,1)" x="-3.48" y="0" font-family='"Liberation Serif", serif' font-size="12" font-weight="normal" font-style="italic" fill="#000">P</text>
</g>
<rect x="44.2" y="308.4" width="23.00" height="10.60" fill="url(#p2)" stroke="#000" stroke-width="1.4"/>
<g clip-path="url(#clipBL)">
<text transform="translate(76.90,317.70) scale(1.000,1)" x="-2.57" y="0" font-family='"Liberation Serif", serif' font-size="12" font-weight="normal" font-style="italic" fill="#000">1</text>
<text transform="translate(82.70,317.70) scale(1.000,1)" x="-3.06" y="0" font-family='"Liberation Serif", serif' font-size="12" font-weight="normal" font-style="italic" fill="#000">8</text>
<text transform="translate(88.50,317.70) scale(1.000,1)" x="-2.97" y="0" font-family='"Liberation Serif", serif' font-size="12" font-weight="normal" font-style="italic" fill="#000">S</text>
</g>
<rect x="44.2" y="321.2" width="23.00" height="10.60" fill="url(#p3)" stroke="#000" stroke-width="1.4"/>
<g clip-path="url(#clipBL)">
<text transform="translate(76.90,330.50) scale(0.872,1)" x="-4.39" y="0" font-family='"Liberation Serif", serif' font-size="12" font-weight="normal" font-style="italic" fill="#000">C</text>
<text transform="translate(82.70,330.50) scale(0.921,1)" x="-4.21" y="0" font-family='"Liberation Serif", serif' font-size="12" font-weight="normal" font-style="italic" fill="#000">Y</text>
<text transform="translate(88.50,330.50) scale(0.916,1)" x="-3.48" y="0" font-family='"Liberation Serif", serif' font-size="12" font-weight="normal" font-style="italic" fill="#000">P</text>
<text transform="translate(94.30,330.50) scale(1.000,1)" x="-4.16" y="0" font-family='"Liberation Serif", serif' font-size="12" font-weight="normal" font-style="italic" fill="#000">+</text>
<text transform="translate(100.10,330.50) scale(1.000,1)" x="-2.57" y="0" font-family='"Liberation Serif", serif' font-size="12" font-weight="normal" font-style="italic" fill="#000">1</text>
<text transform="translate(105.90,330.50) scale(1.000,1)" x="-3.06" y="0" font-family='"Liberation Serif", serif' font-size="12" font-weight="normal" font-style="italic" fill="#000">8</text>
<text transform="translate(111.70,330.50) scale(1.000,1)" x="-2.23" y="0" font-family='"Liberation Serif", serif' font-size="12" font-weight="normal" font-style="italic" fill="#000">s</text>
</g>
<rect x="44.2" y="334.2" width="23.00" height="10.80" fill="url(#p4)" stroke="#000" stroke-width="1.4"/>
<g clip-path="url(#clipBL)">
<text transform="translate(76.90,343.60) scale(0.839,1)" x="-4.54" y="0" font-family='"Liberation Serif", serif' font-size="12" font-weight="normal" font-style="italic" fill="#000">G</text>
<text transform="translate(82.70,343.60) scale(0.809,1)" x="-3.36" y="0" font-family='"Liberation Serif", serif' font-size="12" font-weight="normal" font-style="italic" fill="#000">A</text>
<text transform="translate(88.50,343.60) scale(0.916,1)" x="-3.48" y="0" font-family='"Liberation Serif", serif' font-size="12" font-weight="normal" font-style="italic" fill="#000">P</text>
<text transform="translate(94.30,343.60) scale(0.754,1)" x="-4.17" y="0" font-family='"Liberation Serif", serif' font-size="12" font-weight="normal" font-style="italic" fill="#000">D</text>
<text transform="translate(100.10,343.60) scale(0.696,1)" x="-4.54" y="0" font-family='"Liberation Serif", serif' font-size="12" font-weight="normal" font-style="italic" fill="#000">H</text>
</g>
<clipPath id="clipBL"><rect x="42.1" y="293.0" width="73.50" height="54.20"/></clipPath>
<rect x="404.33" y="390.10" width="14.27" height="128.90" fill="url(#p1)" stroke="#000" stroke-width="1.1"/>
<rect x="418.60" y="390.10" width="14.27" height="128.90" fill="url(#p2)" stroke="#000" stroke-width="1.1"/>
<rect x="432.86" y="390.10" width="14.27" height="128.90" fill="url(#p3)" stroke="#000" stroke-width="1.1"/>
<rect x="447.13" y="390.10" width="14.27" height="128.90" fill="url(#p4)" stroke="#000" stroke-width="1.1"/>
<rect x="475.66" y="507.58" width="14.27" height="11.42" fill="url(#p1)" stroke="#000" stroke-width="1.1"/>
<rect x="489.92" y="496.66" width="14.27" height="22.34" fill="url(#p2)" stroke="#000" stroke-width="1.1"/>
<rect x="504.19" y="503.38" width="14.27" height="15.62" fill="url(#p3)" stroke="#000" stroke-width="1.1"/>
<rect x="518.45" y="457.30" width="14.27" height="61.70" fill="url(#p4)" stroke="#000" stroke-width="1.1"/>
<rect x="546.98" y="506.57" width="14.27" height="12.43" fill="url(#p1)" stroke="#000" stroke-width="1.1"/>
<rect x="561.25" y="499.34" width="14.27" height="19.66" fill="url(#p2)" stroke="#000" stroke-width="1.1"/>
<rect x="575.51" y="503.88" width="14.27" height="15.12" fill="url(#p3)" stroke="#000" stroke-width="1.1"/>
<rect x="589.78" y="411.27" width="14.27" height="107.73" fill="url(#p4)" stroke="#000" stroke-width="1.1"/>
<rect x="618.31" y="513.79" width="14.27" height="5.21" fill="url(#p1)" stroke="#000" stroke-width="1.1"/>
<rect x="632.57" y="505.56" width="14.27" height="13.44" fill="url(#p2)" stroke="#000" stroke-width="1.1"/>
<rect x="646.84" y="510.77" width="14.27" height="8.23" fill="url(#p3)" stroke="#000" stroke-width="1.1"/>
<rect x="661.10" y="468.72" width="14.27" height="50.28" fill="url(#p4)" stroke="#000" stroke-width="1.1"/>
<rect x="391.20" y="481.20" width="293.30" height="4.30" fill="#fff"/>
<path d="M411.46 373.30 V406.90 M408.86 373.30 H414.06 M408.86 406.90 H414.06" stroke="#000" stroke-width="0.9" fill="none"/>
<text x="411.46" y="371.3" font-family='"Liberation Serif", serif' font-size="12" font-weight="normal" font-style="normal" text-anchor="middle" >a</text>
<path d="M425.73 373.30 V406.90 M423.13 373.30 H428.33 M423.13 406.90 H428.33" stroke="#000" stroke-width="0.9" fill="none"/>
<text x="425.73" y="371.3" font-family='"Liberation Serif", serif' font-size="12" font-weight="normal" font-style="normal" text-anchor="middle" >a</text>
<path d="M439.99 373.30 V406.90 M437.39 373.30 H442.59 M437.39 406.90 H442.59" stroke="#000" stroke-width="0.9" fill="none"/>
<text x="439.99" y="371.3" font-family='"Liberation Serif", serif' font-size="12" font-weight="normal" font-style="normal" text-anchor="middle" >a</text>
<path d="M454.26 373.30 V406.90 M451.66 373.30 H456.86 M451.66 406.90 H456.86" stroke="#000" stroke-width="0.9" fill="none"/>
<text x="454.26" y="371.3" font-family='"Liberation Serif", serif' font-size="12" font-weight="normal" font-style="normal" text-anchor="middle" >a</text>
<path d="M482.79 506.90 V508.25 M480.19 506.90 H485.39 M480.19 508.25 H485.39" stroke="#000" stroke-width="0.9" fill="none"/>
<text x="482.79" y="501.8" font-family='"Liberation Serif", serif' font-size="12" font-weight="normal" font-style="normal" text-anchor="middle" >b</text>
<path d="M497.06 495.82 V497.50 M494.45 495.82 H499.66 M494.45 497.50 H499.66" stroke="#000" stroke-width="0.9" fill="none"/>
<text x="497.06" y="490.1" font-family='"Liberation Serif", serif' font-size="12" font-weight="normal" font-style="normal" text-anchor="middle" >b</text>
<path d="M511.32 502.70 V504.05 M508.72 502.70 H513.92 M508.72 504.05 H513.92" stroke="#000" stroke-width="0.9" fill="none"/>
<text x="511.32" y="496.5" font-family='"Liberation Serif", serif' font-size="12" font-weight="normal" font-style="normal" text-anchor="middle" >b</text>
<path d="M525.59 452.26 V462.34 M522.99 452.26 H528.19 M522.99 462.34 H528.19" stroke="#000" stroke-width="0.9" fill="none"/>
<text x="525.59" y="451.1" font-family='"Liberation Serif", serif' font-size="12" font-weight="normal" font-style="normal" text-anchor="middle" >a</text>
<path d="M554.12 505.73 V507.41 M551.52 505.73 H556.72 M551.52 507.41 H556.72" stroke="#000" stroke-width="0.9" fill="none"/>
<text x="554.12" y="502.4" font-family='"Liberation Serif", serif' font-size="12" font-weight="normal" font-style="normal" text-anchor="middle" >b</text>
<path d="M568.38 497.33 V501.36 M565.78 497.33 H570.98 M565.78 501.36 H570.98" stroke="#000" stroke-width="0.9" fill="none"/>
<text x="568.38" y="493.2" font-family='"Liberation Serif", serif' font-size="12" font-weight="normal" font-style="normal" text-anchor="middle" >b</text>
<path d="M582.65 502.54 V505.22 M580.05 502.54 H585.25 M580.05 505.22 H585.25" stroke="#000" stroke-width="0.9" fill="none"/>
<text x="582.65" y="498" font-family='"Liberation Serif", serif' font-size="12" font-weight="normal" font-style="normal" text-anchor="middle" >b</text>
<path d="M596.91 395.48 V427.06 M594.31 395.48 H599.51 M594.31 427.06 H599.51" stroke="#000" stroke-width="0.9" fill="none"/>
<text x="596.91" y="393.48" font-family='"Liberation Serif", serif' font-size="12" font-weight="normal" font-style="normal" text-anchor="middle" >a</text>
<path d="M625.44 513.46 V514.13 M622.84 513.46 H628.04 M622.84 514.13 H628.04" stroke="#000" stroke-width="0.9" fill="none"/>
<text x="625.44" y="508.5" font-family='"Liberation Serif", serif' font-size="12" font-weight="normal" font-style="normal" text-anchor="middle" >b</text>
<path d="M639.71 504.89 V506.23 M637.11 504.89 H642.31 M637.11 506.23 H642.31" stroke="#000" stroke-width="0.9" fill="none"/>
<text x="639.71" y="500" font-family='"Liberation Serif", serif' font-size="12" font-weight="normal" font-style="normal" text-anchor="middle" >b</text>
<path d="M653.97 510.26 V511.27 M651.37 510.26 H656.57 M651.37 511.27 H656.57" stroke="#000" stroke-width="0.9" fill="none"/>
<text x="653.97" y="505.6" font-family='"Liberation Serif", serif' font-size="12" font-weight="normal" font-style="normal" text-anchor="middle" >b</text>
<path d="M668.24 463.85 V473.60 M665.63 463.85 H670.84 M665.63 473.60 H670.84" stroke="#000" stroke-width="0.9" fill="none"/>
<text x="668.24" y="461.85" font-family='"Liberation Serif", serif' font-size="12" font-weight="normal" font-style="normal" text-anchor="middle" >a</text>
<line x1="397.2" y1="288.20" x2="397.2" y2="481.20" stroke="#000" stroke-width="1.8"/>
<line x1="397.2" y1="485.50" x2="397.2" y2="519.75" stroke="#000" stroke-width="1.8"/>
<line x1="392.90" y1="483.25" x2="401.80" y2="479.45" stroke="#000" stroke-width="1.5"/>
<line x1="392.90" y1="487.25" x2="401.80" y2="483.45" stroke="#000" stroke-width="1.5"/>
<line x1="396.3" y1="519.00" x2="682.5" y2="519.00" stroke="#000" stroke-width="1.8"/>
<line x1="393.00" y1="519.00" x2="397.2" y2="519.00" stroke="#000" stroke-width="1.5"/>
<text transform="translate(376.50,523.15) scale(1.000,1)" x="-2.62" y="0" font-family='"Liberation Serif", serif' font-size="10.5" font-weight="bold" font-style="normal" fill="#000">0</text>
<text transform="translate(381.70,523.15) scale(1.000,1)" x="-1.31" y="0" font-family='"Liberation Serif", serif' font-size="10.5" font-weight="bold" font-style="normal" fill="#000">.</text>
<text transform="translate(386.90,523.15) scale(1.000,1)" x="-2.62" y="0" font-family='"Liberation Serif", serif' font-size="10.5" font-weight="bold" font-style="normal" fill="#000">0</text>
<line x1="394.80" y1="502.20" x2="397.2" y2="502.20" stroke="#000" stroke-width="1.5"/>
<line x1="394.80" y1="474.10" x2="397.2" y2="474.10" stroke="#000" stroke-width="1.5"/>
<line x1="393.00" y1="457.30" x2="397.2" y2="457.30" stroke="#000" stroke-width="1.5"/>
<text transform="translate(376.50,461.45) scale(1.000,1)" x="-2.62" y="0" font-family='"Liberation Serif", serif' font-size="10.5" font-weight="bold" font-style="normal" fill="#000">0</text>
<text transform="translate(381.70,461.45) scale(1.000,1)" x="-1.31" y="0" font-family='"Liberation Serif", serif' font-size="10.5" font-weight="bold" font-style="normal" fill="#000">.</text>
<text transform="translate(386.90,461.45) scale(1.000,1)" x="-2.65" y="0" font-family='"Liberation Serif", serif' font-size="10.5" font-weight="bold" font-style="normal" fill="#000">6</text>
<line x1="394.80" y1="440.50" x2="397.2" y2="440.50" stroke="#000" stroke-width="1.5"/>
<line x1="393.00" y1="423.70" x2="397.2" y2="423.70" stroke="#000" stroke-width="1.5"/>
<text transform="translate(376.50,427.85) scale(1.000,1)" x="-2.62" y="0" font-family='"Liberation Serif", serif' font-size="10.5" font-weight="bold" font-style="normal" fill="#000">0</text>
<text transform="translate(381.70,427.85) scale(1.000,1)" x="-1.31" y="0" font-family='"Liberation Serif", serif' font-size="10.5" font-weight="bold" font-style="normal" fill="#000">.</text>
<text transform="translate(386.90,427.85) scale(1.000,1)" x="-2.62" y="0" font-family='"Liberation Serif", serif' font-size="10.5" font-weight="bold" font-style="normal" fill="#000">8</text>
<line x1="394.80" y1="406.90" x2="397.2" y2="406.90" stroke="#000" stroke-width="1.5"/>
<line x1="393.00" y1="390.10" x2="397.2" y2="390.10" stroke="#000" stroke-width="1.5"/>
<text transform="translate(376.50,394.25) scale(1.000,1)" x="-2.77" y="0" font-family='"Liberation Serif", serif' font-size="10.5" font-weight="bold" font-style="normal" fill="#000">1</text>
<text transform="translate(381.70,394.25) scale(1.000,1)" x="-1.31" y="0" font-family='"Liberation Serif", serif' font-size="10.5" font-weight="bold" font-style="normal" fill="#000">.</text>
<text transform="translate(386.90,394.25) scale(1.000,1)" x="-2.62" y="0" font-family='"Liberation Serif", serif' font-size="10.5" font-weight="bold" font-style="normal" fill="#000">0</text>
<line x1="394.80" y1="373.30" x2="397.2" y2="373.30" stroke="#000" stroke-width="1.5"/>
<line x1="393.00" y1="356.50" x2="397.2" y2="356.50" stroke="#000" stroke-width="1.5"/>
<text transform="translate(376.50,360.65) scale(1.000,1)" x="-2.77" y="0" font-family='"Liberation Serif", serif' font-size="10.5" font-weight="bold" font-style="normal" fill="#000">1</text>
<text transform="translate(381.70,360.65) scale(1.000,1)" x="-1.31" y="0" font-family='"Liberation Serif", serif' font-size="10.5" font-weight="bold" font-style="normal" fill="#000">.</text>
<text transform="translate(386.90,360.65) scale(1.000,1)" x="-2.62" y="0" font-family='"Liberation Serif", serif' font-size="10.5" font-weight="bold" font-style="normal" fill="#000">2</text>
<line x1="394.80" y1="339.70" x2="397.2" y2="339.70" stroke="#000" stroke-width="1.5"/>
<line x1="393.00" y1="322.90" x2="397.2" y2="322.90" stroke="#000" stroke-width="1.5"/>
<text transform="translate(376.50,327.05) scale(1.000,1)" x="-2.77" y="0" font-family='"Liberation Serif", serif' font-size="10.5" font-weight="bold" font-style="normal" fill="#000">1</text>
<text transform="translate(381.70,327.05) scale(1.000,1)" x="-1.31" y="0" font-family='"Liberation Serif", serif' font-size="10.5" font-weight="bold" font-style="normal" fill="#000">.</text>
<text transform="translate(386.90,327.05) scale(1.000,1)" x="-2.60" y="0" font-family='"Liberation Serif", serif' font-size="10.5" font-weight="bold" font-style="normal" fill="#000">4</text>
<line x1="394.80" y1="306.10" x2="397.2" y2="306.10" stroke="#000" stroke-width="1.5"/>
<line x1="393.00" y1="289.30" x2="397.2" y2="289.30" stroke="#000" stroke-width="1.5"/>
<text transform="translate(376.50,293.45) scale(1.000,1)" x="-2.77" y="0" font-family='"Liberation Serif", serif' font-size="10.5" font-weight="bold" font-style="normal" fill="#000">1</text>
<text transform="translate(381.70,293.45) scale(1.000,1)" x="-1.31" y="0" font-family='"Liberation Serif", serif' font-size="10.5" font-weight="bold" font-style="normal" fill="#000">.</text>
<text transform="translate(386.90,293.45) scale(1.000,1)" x="-2.65" y="0" font-family='"Liberation Serif", serif' font-size="10.5" font-weight="bold" font-style="normal" fill="#000">6</text>
<line x1="397.20" y1="519.00" x2="397.20" y2="521.60" stroke="#000" stroke-width="1.2"/>
<line x1="468.52" y1="519.00" x2="468.52" y2="521.60" stroke="#000" stroke-width="1.2"/>
<line x1="539.85" y1="519.00" x2="539.85" y2="521.60" stroke="#000" stroke-width="1.2"/>
<line x1="611.17" y1="519.00" x2="611.17" y2="521.60" stroke="#000" stroke-width="1.2"/>
<line x1="682.50" y1="519.00" x2="682.50" y2="521.60" stroke="#000" stroke-width="1.2"/>
<line x1="432.86" y1="519.00" x2="432.86" y2="523.40" stroke="#000" stroke-width="1.3"/>
<text x="432.86" y="534.8" font-family='"Liberation Serif", serif' font-size="10" font-weight="bold" font-style="normal" text-anchor="middle" >0</text>
<line x1="504.19" y1="519.00" x2="504.19" y2="523.40" stroke="#000" stroke-width="1.3"/>
<text x="504.19" y="534.8" font-family='"Liberation Serif", serif' font-size="10" font-weight="bold" font-style="normal" text-anchor="middle" >6</text>
<line x1="575.51" y1="519.00" x2="575.51" y2="523.40" stroke="#000" stroke-width="1.3"/>
<text x="575.51" y="534.8" font-family='"Liberation Serif", serif' font-size="10" font-weight="bold" font-style="normal" text-anchor="middle" >12</text>
<line x1="646.84" y1="519.00" x2="646.84" y2="523.40" stroke="#000" stroke-width="1.3"/>
<text x="646.84" y="534.8" font-family='"Liberation Serif", serif' font-size="10" font-weight="bold" font-style="normal" text-anchor="middle" >24</text>
<text transform="translate(515.04,550.30) scale(0.840,1)" x="-3.87" y="0" font-family='"Liberation Serif", serif' font-size="11.6" font-weight="bold" font-style="normal" fill="#000">T</text>
<text transform="translate(520.40,550.30) scale(0.643,1)" x="-1.65" y="0" font-family='"Liberation Serif", serif' font-size="11.6" font-weight="bold" font-style="normal" fill="#000">i</text>
<text transform="translate(525.97,550.30) scale(0.808,1)" x="-4.89" y="0" font-family='"Liberation Serif", serif' font-size="11.6" font-weight="bold" font-style="normal" fill="#000">m</text>
<text transform="translate(535.19,550.30) scale(1.000,1)" x="-2.62" y="0" font-family='"Liberation Serif", serif' font-size="11.6" font-weight="bold" font-style="normal" fill="#000">e</text>
<text transform="translate(541.26,550.30) scale(1.000,1)" x="-2.00" y="0" font-family='"Liberation Serif", serif' font-size="11.6" font-weight="bold" font-style="normal" fill="#000">(</text>
<text transform="translate(553.01,550.30) scale(1.000,1)" x="-3.28" y="0" font-family='"Liberation Serif", serif' font-size="11.6" font-weight="bold" font-style="normal" fill="#000">h</text>
<text transform="translate(559.18,550.30) scale(1.000,1)" x="-1.86" y="0" font-family='"Liberation Serif", serif' font-size="11.6" font-weight="bold" font-style="normal" fill="#000">)</text>
<text transform="translate(369.5,402.8) rotate(-90)" font-family='"Liberation Serif", serif' font-size="11.8" font-weight="bold" text-anchor="middle">Relative expression of the <tspan font-style="italic">PXG3</tspan></text>
<text x="523.6" y="317.6" font-family='"Liberation Serif", serif' font-size="15.5" font-weight="normal" font-style="normal" text-anchor="start" >42°C</text>
<rect x="399.6" y="289.8" width="75.20" height="54.60" fill="#fff" stroke="#666" stroke-width="1.3"/>
<rect x="401.5" y="292.6" width="22.80" height="10.60" fill="url(#p1)" stroke="#000" stroke-width="1.4"/>
<g clip-path="url(#clipBR)">
<text transform="translate(434.40,301.90) scale(0.839,1)" x="-4.54" y="0" font-family='"Liberation Serif", serif' font-size="12" font-weight="normal" font-style="italic" fill="#000">G</text>
<text transform="translate(440.20,301.90) scale(0.985,1)" x="-4.08" y="0" font-family='"Liberation Serif", serif' font-size="12" font-weight="normal" font-style="italic" fill="#000">T</text>
<text transform="translate(446.00,301.90) scale(0.916,1)" x="-3.48" y="0" font-family='"Liberation Serif", serif' font-size="12" font-weight="normal" font-style="italic" fill="#000">P</text>
</g>
<rect x="401.5" y="305.6" width="22.80" height="10.20" fill="url(#p2)" stroke="#000" stroke-width="1.4"/>
<g clip-path="url(#clipBR)">
<text transform="translate(434.40,314.70) scale(1.000,1)" x="-2.21" y="0" font-family='"Liberation Serif", serif' font-size="12" font-weight="normal" font-style="italic" fill="#000">I</text>
<text transform="translate(440.20,314.70) scale(0.754,1)" x="-4.17" y="0" font-family='"Liberation Serif", serif' font-size="12" font-weight="normal" font-style="italic" fill="#000">D</text>
<text transform="translate(446.00,314.70) scale(0.696,1)" x="-4.54" y="0" font-family='"Liberation Serif", serif' font-size="12" font-weight="normal" font-style="italic" fill="#000">H</text>
</g>
<rect x="401.5" y="318.6" width="22.80" height="10.60" fill="url(#p3)" stroke="#000" stroke-width="1.4"/>
<g clip-path="url(#clipBR)">
<text transform="translate(434.40,327.90) scale(0.839,1)" x="-4.54" y="0" font-family='"Liberation Serif", serif' font-size="12" font-weight="normal" font-style="italic" fill="#000">G</text>
<text transform="translate(440.20,327.90) scale(0.985,1)" x="-4.08" y="0" font-family='"Liberation Serif", serif' font-size="12" font-weight="normal" font-style="italic" fill="#000">T</text>
<text transform="translate(446.00,327.90) scale(0.916,1)" x="-3.48" y="0" font-family='"Liberation Serif", serif' font-size="12" font-weight="normal" font-style="italic" fill="#000">P</text>
<text transform="translate(451.80,327.90) scale(1.000,1)" x="-4.16" y="0" font-family='"Liberation Serif", serif' font-size="12" font-weight="normal" font-style="italic" fill="#000">+</text>
<text transform="translate(457.60,327.90) scale(1.000,1)" x="-2.21" y="0" font-family='"Liberation Serif", serif' font-size="12" font-weight="normal" font-style="italic" fill="#000">I</text>
<text transform="translate(463.40,327.90) scale(0.754,1)" x="-4.17" y="0" font-family='"Liberation Serif", serif' font-size="12" font-weight="normal" font-style="italic" fill="#000">D</text>
<text transform="translate(469.20,327.90) scale(0.696,1)" x="-4.54" y="0" font-family='"Liberation Serif", serif' font-size="12" font-weight="normal" font-style="italic" fill="#000">H</text>
</g>
<rect x="401.5" y="331.3" width="22.80" height="10.70" fill="url(#p4)" stroke="#000" stroke-width="1.4"/>
<g clip-path="url(#clipBR)">
<text transform="translate(437.10,340.65) scale(0.896,1)" x="-3.43" y="0" font-family='"Liberation Serif", serif' font-size="12" font-weight="normal" font-style="italic" fill="#000">α</text>
<text transform="translate(446.50,340.65) scale(0.985,1)" x="-4.08" y="0" font-family='"Liberation Serif", serif' font-size="12" font-weight="normal" font-style="italic" fill="#000">T</text>
<text transform="translate(452.40,340.65) scale(0.791,1)" x="-5.21" y="0" font-family='"Liberation Serif", serif' font-size="12" font-weight="normal" font-style="italic" fill="#000">U</text>
<text transform="translate(458.30,340.65) scale(0.935,1)" x="-3.59" y="0" font-family='"Liberation Serif", serif' font-size="12" font-weight="normal" font-style="italic" fill="#000">B</text>
</g>
<clipPath id="clipBR"><rect x="399.6" y="289.8" width="74.70" height="54.60"/></clipPath>
<text x="99.1" y="411.2" font-family='"Liberation Serif", serif' font-size="12" font-weight="normal" font-style="normal" text-anchor="middle" >a</text>
</svg></body></html>
